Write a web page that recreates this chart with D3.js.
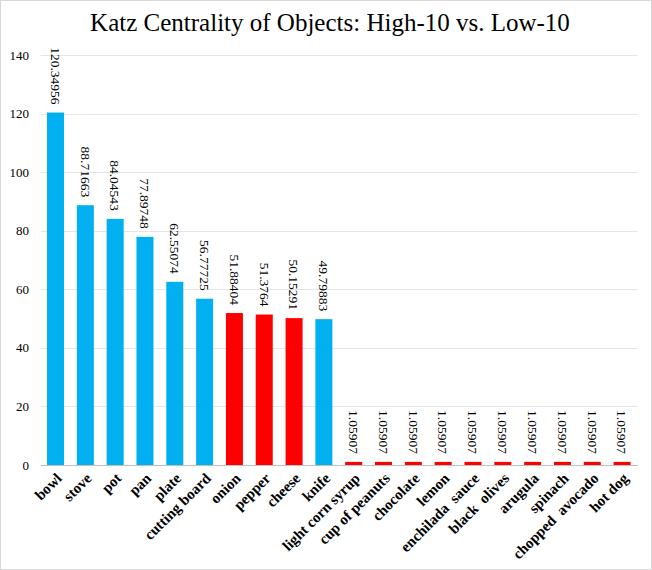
<!DOCTYPE html>
<html>
<head>
<meta charset="utf-8">
<script src="https://cdn.jsdelivr.net/npm/d3@7/dist/d3.min.js"></script>
<style>
  html, body { margin: 0; padding: 0; background: #fff; }
  svg { display: block; }
</style>
</head>
<body>
<svg id="chart"></svg>
<script>
// chart data
const categories = ['bowl', 'stove', 'pot', 'pan', 'plate', 'cutting board', 'onion', 'pepper', 'cheese', 'knife',
  'light corn syrup', 'cup of peanuts', 'chocolate', 'lemon', 'enchilada  sauce', 'black  olives',
  'arugula', 'spinach', 'chopped  avocado', 'hot dog'];
const values = [120.34956, 88.71663, 84.04543, 77.89748, 62.55074, 56.77725, 51.88404, 51.3764, 50.15291, 49.79883,
  1.05907, 1.05907, 1.05907, 1.05907, 1.05907, 1.05907, 1.05907, 1.05907, 1.05907, 1.05907];
const groups = ['blue', 'blue', 'blue', 'blue', 'blue', 'blue', 'red', 'red', 'red', 'blue',
  'red', 'red', 'red', 'red', 'red', 'red', 'red', 'red', 'red', 'red'];
const yTicks = [0, 20, 40, 60, 80, 100, 120, 140];
const chartTitle = 'Katz Centrality of Objects: High-10 vs. Low-10';

const width = 652, height = 570;
const margin = {top: 55, right: 15, bottom: 105, left: 40.6};
const serif = '"Liberation Serif", "Times New Roman", "DejaVu Serif", serif';

const svg = d3.select('#chart')
  .attr('width', width)
  .attr('height', height)
  .attr('font-family', serif);

// outer border
svg.append('rect')
  .attr('x', 0.5).attr('y', 0.5)
  .attr('width', width - 1).attr('height', height - 1)
  .attr('fill', '#fff').attr('stroke', '#d9d9d9');

const x = d3.scaleBand()
  .domain(categories)
  .range([margin.left, 637])
  .paddingInner(0.43)
  .paddingOuter(0.215);

const y = d3.scaleLinear().domain([0, 140]).range([465, 55]);

const color = d3.scaleOrdinal().domain(['blue', 'red']).range(['#00b0f0', '#ff0000']);

// gridlines
svg.append('g')
  .selectAll('line')
  .data(yTicks.filter(t => t > 0))
  .enter().append('line')
  .attr('x1', margin.left).attr('x2', 638)
  .attr('y1', d => Math.round(y(d)) + 0.5).attr('y2', d => Math.round(y(d)) + 0.5)
  .attr('stroke', '#e6e6e6');

// y tick labels
svg.append('g')
  .selectAll('text')
  .data(yTicks)
  .enter().append('text')
  .attr('x', 29)
  .attr('y', d => y(d))
  .attr('dy', '0.35em')
  .attr('text-anchor', 'end')
  .attr('font-size', 13)
  .attr('fill', '#000')
  .text(d => d);

// bars
svg.append('g')
  .selectAll('rect')
  .data(values)
  .enter().append('rect')
  .attr('x', (d, i) => x(categories[i]))
  .attr('y', d => y(d))
  .attr('width', x.bandwidth())
  .attr('height', d => y(0) - y(d))
  .attr('fill', (d, i) => color(groups[i]));

// baseline
svg.append('line')
  .attr('x1', margin.left).attr('x2', 638)
  .attr('y1', y(0) + 0.5).attr('y2', y(0) + 0.5)
  .attr('stroke', '#bfbfbf');

// value labels (rotated 90)
svg.append('g')
  .selectAll('text')
  .data(values)
  .enter().append('text')
  .attr('transform', (d, i) => 'translate(' + (x(categories[i]) + x.bandwidth() / 2) + ',' + (y(d) - 8) + ') rotate(90)')
  .attr('text-anchor', 'end')
  .attr('dy', '0.35em')
  .attr('font-size', 13.5)
  .attr('fill', '#000')
  .text(d => String(d));

// category labels (rotated -45)
svg.append('g')
  .selectAll('text')
  .data(categories)
  .enter().append('text')
  .attr('transform', d => 'translate(' + (x(d) + x.bandwidth() / 2 + 3) + ',' + 475 + ') rotate(-45)')
  .attr('text-anchor', 'end')
  .attr('dy', '0.4em')
  .attr('font-size', 15)
  .attr('font-weight', 'bold')
  .attr('fill', '#000')
  .style('white-space', 'pre')
  .text(d => d);

// title
svg.append('text')
  .attr('x', 330)
  .attr('y', 31)
  .attr('text-anchor', 'middle')
  .attr('font-size', 25)
  .attr('fill', '#000')
  .text(chartTitle);
</script>
</body>
</html>
